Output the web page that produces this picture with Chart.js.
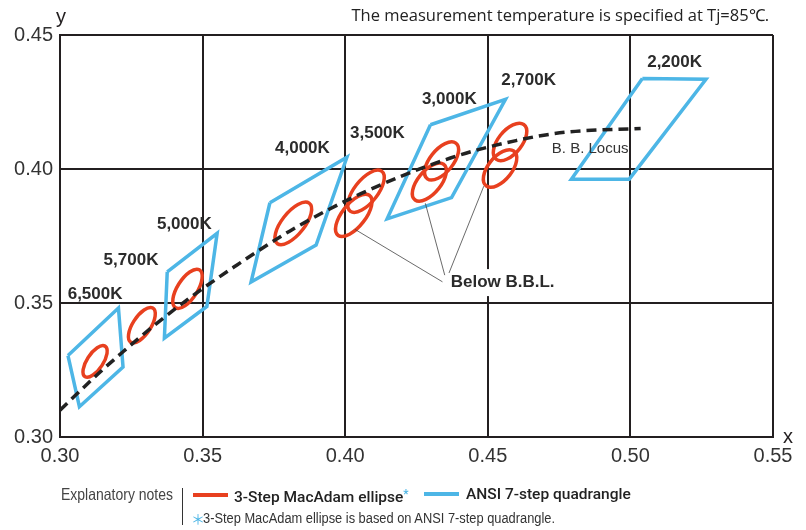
<!DOCTYPE html>
<html lang="en">
<head>
  <meta charset="UTF-8">
  <title>ANSI quadrangles and 3-step MacAdam ellipses</title>
  <script src="https://cdn.jsdelivr.net/npm/chart.js"></script>
  <style>
    body { margin: 0; background: #fff; }
    #wrap { position: relative; width: 806px; height: 530px; overflow: hidden; }
    #grafico { position: absolute; left: 0; top: 0; }
    .txt { position: absolute; white-space: nowrap; line-height: 20px; }
    .titulo { top: 7px; right: 37px; font: 16.5px "Open Sans", sans-serif; color: #222; line-height: 16px; }
    .narrow { font-family: "Liberation Sans", Arial, sans-serif; color: #444; transform-origin: left center; }
    .medium { font-family: Roboto, "Liberation Sans", sans-serif; font-weight: 500; font-size: 15.5px; color: #222; }
    .star { color: #4db6e6; }
    .swatch { position: absolute; height: 4px; width: 35px; }
    .divider { position: absolute; left: 182px; top: 488px; width: 1px; height: 37px; background: #333; }
  </style>
</head>
<body>
<div id="wrap">
  <canvas id="grafico" width="806" height="530"></canvas>
  <div class="txt titulo">The measurement temperature is specified at Tj=85℃.</div>

  <div class="txt narrow" data-w="112" style="left:61px; top:484px; font-size:16.5px;">Explanatory notes</div>
  <div class="divider"></div>
  <div class="swatch" style="left:193px; top:493px; background:#e8401f;"></div>
  <div class="txt medium" style="left:234px; top:484px;">3-Step MacAdam ellipse<span class="star" style="font-size:12px; vertical-align:4px;">*</span></div>
  <div class="swatch" style="left:424px; top:492px; background:#4db6e6;"></div>
  <div class="txt medium" style="left:466px; top:484px;">ANSI 7-step quadrangle</div>
  <div class="txt star" style="left:191px; top:508px; font-size:14px; font-family:'Noto Sans CJK JP', sans-serif;">＊</div>
  <div class="txt narrow" data-w="352" style="left:203px; top:508px; font-size:15.5px; color:#333;">3-Step MacAdam ellipse is based on ANSI 7-step quadrangle.</div>
</div>

<script>
  // Black body locus (CIE 1931 x, y)
  const bblX = [0.300, 0.3135, 0.3221, 0.3324, 0.3451, 0.3611, 0.3805, 0.4053, 0.4369, 0.4599, 0.4770, 0.5036];
  const bblY = [0.3100, 0.3237, 0.3318, 0.3411, 0.3516, 0.3635, 0.3768, 0.3907, 0.4041, 0.4106, 0.4137, 0.4151];

  // ANSI 7-step quadrangles (4 corners each)
  const quadCct = ['6500K', '5000K', '4000K', '3000K', '2200K'];
  const quadX = [
    [0.3028, 0.3205, 0.3221, 0.3068],
    [0.3376, 0.3551, 0.3515, 0.3366],
    [0.3736, 0.4006, 0.3898, 0.3670],
    [0.4299, 0.4562, 0.4373, 0.4147],
    [0.5042, 0.5265, 0.4996, 0.4793]
  ];
  const quadY = [
    [0.3304, 0.3481, 0.3261, 0.3113],
    [0.3616, 0.3760, 0.3487, 0.3369],
    [0.3874, 0.4044, 0.3716, 0.3578],
    [0.4165, 0.4260, 0.3893, 0.3814],
    [0.4338, 0.4335, 0.3962, 0.3962]
  ];

  // 3-step MacAdam ellipses: centre, semi axes, tilt (deg)
  const ellipseCct = ['6500K', '5700K', '5000K', '4000K', '3500K', '3500K below', '3000K', '3000K below', '2700K', '2700K below'];
  const ellipseX = [0.3123, 0.3287, 0.3447, 0.3818, 0.4073, 0.4030, 0.4338, 0.4295, 0.4578, 0.4543];
  const ellipseY = [0.3282, 0.3417, 0.3553, 0.3797, 0.3917, 0.3827, 0.4030, 0.3951, 0.4101, 0.4002];
  const ellipseA = [0.00669, 0.00746, 0.00822, 0.00939, 0.00927, 0.00927, 0.00834, 0.00834, 0.00810, 0.00810];
  const ellipseB = [0.00285, 0.00320, 0.00354, 0.00402, 0.00414, 0.00414, 0.00408, 0.00408, 0.00420, 0.00420];
  const ellipseTheta = [58.6, 59.1, 59.6, 53.7, 54.0, 54.0, 53.2, 53.2, 53.7, 53.7];

  // colour temperature labels
  const cctLabels = ['6,500K', '5,700K', '5,000K', '4,000K', '3,500K', '3,000K', '2,700K', '2,200K'];
  const cctLabelX = [0.3123, 0.3249, 0.3436, 0.3850, 0.4113, 0.4365, 0.4643, 0.5155];
  const cctLabelY = [0.3533, 0.3660, 0.3794, 0.4077, 0.4133, 0.4260, 0.4331, 0.4398];

  // leader lines from "Below B.B.L." to the lower ellipses
  const leaderFromX = [0.4034, 0.4281, 0.4486];
  const leaderFromY = [0.3775, 0.3872, 0.3936];
  const leaderToX = [0.4341, 0.4349, 0.4364];
  const leaderToY = [0.3579, 0.3604, 0.3612];

  const xTicks = [0.30, 0.35, 0.40, 0.45, 0.50, 0.55];
  const yTicks = [0.30, 0.35, 0.40, 0.45];

  const RED = '#e8401f';
  const BLUE = '#4db6e6';
  const INK = '#231f20';

  // squeeze the condensed note texts to their width
  document.querySelectorAll('[data-w]').forEach(el => {
    const w = el.getBoundingClientRect().width;
    el.style.transform = 'scaleX(' + (el.dataset.w / w) + ')';
  });

  const puntos = (xs, ys) => xs.map((v, i) => ({ x: v, y: ys[i] }));

  const datasets = [{
    label: 'B. B. Locus',
    data: puntos(bblX, bblY),
    showLine: true,
    borderColor: '#222',
    borderWidth: 3.5,
    borderDash: [10, 6],
    borderCapStyle: 'butt',
    cubicInterpolationMode: 'monotone',
    pointRadius: 0,
    fill: false
  }];
  quadCct.forEach((cct, i) => {
    datasets.push({
      label: 'ANSI ' + cct,
      data: puntos(quadX[i].concat(quadX[i][0]), quadY[i].concat(quadY[i][0])),
      showLine: true,
      borderColor: BLUE,
      borderWidth: 3.5,
      borderJoinStyle: 'miter',
      pointRadius: 0,
      fill: false
    });
  });

  const dibujos = {
    id: 'dibujos',
    beforeDatasetDraw(chart, args) {
      if (args.index !== 0) return; // ellipses go under the dashed locus
      const { ctx, scales: { x, y } } = chart;
      const kx = (x.getPixelForValue(0.55) - x.getPixelForValue(0.30)) / 0.25;
      const ky = (y.getPixelForValue(0.30) - y.getPixelForValue(0.45)) / 0.15;
      ctx.save();
      ctx.strokeStyle = RED;
      ctx.lineWidth = 3.5;
      ellipseX.forEach((cx, i) => {
        ctx.save();
        ctx.translate(x.getPixelForValue(cx), y.getPixelForValue(ellipseY[i]));
        ctx.scale(kx, -ky);
        ctx.rotate(ellipseTheta[i] * Math.PI / 180);
        ctx.beginPath();
        ctx.ellipse(0, 0, ellipseA[i], ellipseB[i], 0, 0, Math.PI * 2);
        ctx.restore();
        ctx.stroke();
      });
      ctx.restore();
    },
    afterDatasetsDraw(chart) {
      const { ctx, scales: { x, y } } = chart;
      ctx.save();

      // Below B.B.L. note
      ctx.font = 'bold 17px "Liberation Sans", Arial, sans-serif';
      ctx.textAlign = 'center';
      ctx.textBaseline = 'middle';
      const bx = x.getPixelForValue(0.4552), by = y.getPixelForValue(0.3578);
      const w = ctx.measureText('Below B.B.L.').width;
      ctx.fillStyle = '#fff';
      ctx.fillRect(bx - w / 2 - 3, by - 13, w + 6, 27);
      ctx.strokeStyle = '#444';
      ctx.lineWidth = 0.8;
      leaderFromX.forEach((v, i) => {
        ctx.beginPath();
        ctx.moveTo(x.getPixelForValue(v), y.getPixelForValue(leaderFromY[i]));
        ctx.lineTo(x.getPixelForValue(leaderToX[i]), y.getPixelForValue(leaderToY[i]));
        ctx.stroke();
      });
      ctx.fillStyle = '#2b2b2b';
      ctx.fillText('Below B.B.L.', bx, by);

      cctLabels.forEach((t, i) => {
        ctx.fillText(t, x.getPixelForValue(cctLabelX[i]), y.getPixelForValue(cctLabelY[i]));
      });

      ctx.font = '15px "Liberation Sans", Arial, sans-serif';
      ctx.fillStyle = '#333';
      ctx.fillText('B. B. Locus', x.getPixelForValue(0.4859), y.getPixelForValue(0.4077));

      // axis letters
      ctx.font = '20px "Liberation Sans", Arial, sans-serif';
      ctx.fillStyle = INK;
      ctx.fillText('y', x.left + 1, y.top - 18);
      ctx.fillText('x', x.right + 15, y.bottom);
      ctx.restore();
    }
  };

  const tickFont = { family: '"Liberation Sans", Arial, sans-serif', size: 20 };

  new Chart(document.getElementById('grafico'), {
    type: 'scatter',
    data: { datasets },
    options: {
      responsive: false,
      devicePixelRatio: 1,
      animation: false,
      layout: { padding: { top: 35, right: 33, left: 0, bottom: 0 } },
      plugins: { legend: { display: false }, tooltip: { enabled: false } },
      scales: {
        x: {
          type: 'linear',
          min: xTicks[0],
          max: xTicks[xTicks.length - 1],
          afterFit: s => { s.height = 93; },
          afterBuildTicks: s => { s.ticks = xTicks.map(v => ({ value: v })); },
          ticks: { callback: v => v.toFixed(2), font: tickFont, color: '#333', padding: 7, maxRotation: 0 },
          grid: { color: INK, lineWidth: 2, drawTicks: false },
          border: { color: INK, width: 2 }
        },
        y: {
          type: 'linear',
          min: yTicks[0],
          max: yTicks[yTicks.length - 1],
          afterFit: s => { s.width = 60; },
          afterBuildTicks: s => { s.ticks = yTicks.map(v => ({ value: v })); },
          ticks: { callback: v => v.toFixed(2), font: tickFont, color: '#333', padding: 7 },
          grid: { color: INK, lineWidth: 2, drawTicks: false },
          border: { color: INK, width: 2 }
        }
      }
    },
    plugins: [dibujos]
  });
</script>
</body>
</html>
